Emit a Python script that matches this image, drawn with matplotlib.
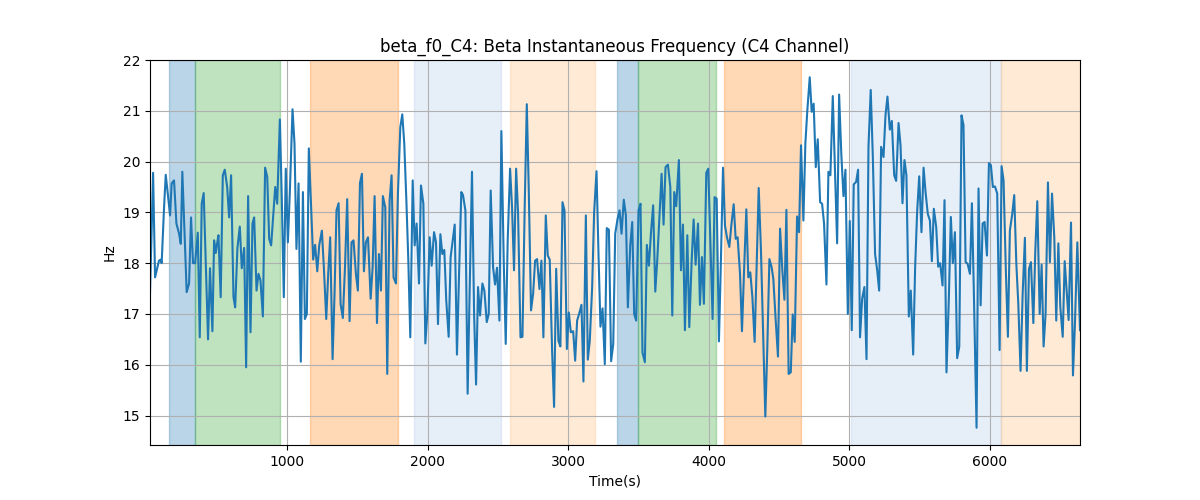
import matplotlib
matplotlib.use("Agg")
import matplotlib.pyplot as plt

time_s = [
    24, 46, 60, 88, 100, 107, 124, 136, 167, 178, 195, 212, 231, 243, 254, 285, 302, 316, 330, 345,
    364, 378, 392, 406, 437, 451, 468, 480, 492, 501, 511, 527, 542, 556, 573, 587, 601, 618, 630, 646,
    663, 677, 694, 708, 722, 739, 753, 765,
    782, 796, 810, 827, 843, 858, 872, 886, 900, 915, 929, 948, 962, 976, 990, 1005, 1019, 1038, 1052, 1066,
    1081, 1097, 1112, 1126, 1140, 1154, 1171, 1185, 1199, 1214, 1228, 1247, 1261, 1278, 1292, 1306, 1323, 1337,
    1351, 1366, 1380, 1396, 1411, 1427, 1444, 1458, 1472, 1489, 1503,
    1518, 1532, 1546, 1560, 1575, 1594, 1608, 1622, 1639, 1653, 1667, 1681, 1698, 1712, 1729, 1743, 1757, 1774,
    1788, 1805, 1819, 1833, 1848, 1862, 1876, 1893, 1907, 1921, 1938, 1952, 1969, 1983, 1997, 2014, 2028, 2045,
    2059, 2073, 2090, 2104, 2118, 2132, 2149, 2163, 2178, 2192, 2208, 2223, 2239,
    2251, 2268, 2284, 2315, 2330, 2344, 2358, 2372, 2389, 2403, 2420, 2434, 2448, 2465, 2479, 2493, 2510, 2524,
    2541, 2555, 2569, 2586, 2600, 2614, 2629, 2643, 2660, 2674, 2690, 2705, 2719, 2735, 2750, 2764, 2778, 2795,
    2809, 2823, 2840, 2854, 2868, 2885, 2899, 2914, 2930, 2944, 2959, 2973,
    2990, 3004, 3018, 3035, 3049, 3063, 3077, 3094, 3108, 3125, 3139, 3153, 3170, 3184, 3201, 3215, 3229, 3244,
    3260, 3274, 3289, 3305, 3320, 3334, 3350, 3365, 3379, 3395, 3410, 3424, 3441, 3455, 3469, 3483, 3500, 3514,
    3528, 3545, 3559, 3574, 3588, 3604, 3619, 3633, 3650, 3664, 3678, 3692, 3709,
    3726, 3740, 3754, 3768, 3787, 3802, 3816, 3830, 3847, 3861, 3878, 3892, 3906, 3923, 3937, 3951, 3965, 3982,
    3996, 4010, 4027, 4041, 4056, 4072, 4086, 4101, 4115, 4129, 4146, 4160, 4177, 4191, 4205, 4222, 4236, 4250,
    4267, 4281, 4295, 4310, 4326, 4340, 4355, 4371, 4386, 4402, 4416, 4431, 4447,
    4459, 4476, 4492, 4507, 4523, 4538, 4552, 4568, 4583, 4597, 4611, 4628, 4642, 4656, 4673, 4687, 4701, 4718,
    4732, 4746, 4761, 4775, 4792, 4806, 4820, 4837, 4851, 4865, 4882, 4896, 4913, 4927, 4943, 4958, 4972, 4989,
    5003, 5017, 5031, 5048, 5062, 5076, 5091, 5107, 5122, 5136, 5152, 5167, 5183,
    5198, 5212, 5226, 5243, 5257, 5271, 5288, 5302, 5319, 5333, 5350, 5364, 5378, 5392, 5406, 5423, 5437, 5454,
    5468, 5482, 5497, 5513, 5528, 5542, 5558, 5573, 5587, 5601, 5618, 5632, 5646, 5663, 5677, 5691, 5708, 5722,
    5736, 5751, 5767, 5782, 5798, 5812, 5827, 5841, 5858, 5872, 5886, 5905, 5919,
    5934, 5948, 5962, 5979, 5993, 6007, 6021, 6036, 6052, 6069, 6083, 6097, 6114, 6128, 6142, 6159, 6173, 6188,
    6202, 6218, 6233, 6249, 6263, 6278, 6292, 6309, 6323, 6337, 6354, 6368, 6382, 6396, 6413, 6427, 6442, 6458,
    6472, 6487, 6501, 6518, 6532, 6546, 6560, 6577, 6591, 6605, 6622, 6641,
]

beta_hz = [
    17.4, 19.78, 17.72, 18.05, 18.07, 18.0, 19.1, 19.74, 18.94, 19.57, 19.63, 18.78, 18.58, 18.38, 19.8, 17.43, 17.6, 18.9, 18.0, 18.0,
    18.6, 16.54, 19.17, 19.38, 16.5, 17.9, 16.66, 18.45, 18.2, 18.38, 18.55, 17.33, 19.73, 19.84, 19.5, 18.9, 19.73, 17.33, 17.13, 18.3,
    18.72, 17.9, 18.3, 15.95, 19.32, 16.64, 18.78, 18.9,
    17.46, 17.79, 17.66, 16.95, 19.88, 19.7, 18.48, 18.35, 18.91, 19.5, 19.17, 20.83, 19.24, 17.33, 19.86, 18.41, 19.4, 21.03, 20.36, 18.28,
    19.57, 16.06, 19.4, 16.9, 17.0, 20.26, 19.04, 18.07, 18.36, 17.84, 18.35, 18.64, 17.92, 16.9, 17.79, 18.51, 16.11, 17.4,
    19.04, 19.18, 17.2, 16.92, 17.89, 19.26, 16.86, 18.41, 18.45, 17.79, 17.46,
    19.58, 19.76, 17.84, 18.41, 18.51, 17.3, 17.92, 19.32, 16.82, 18.18, 17.46, 19.32, 19.1, 15.82, 19.24, 19.73, 17.72, 17.6,
    19.37, 20.68, 20.93, 20.36, 19.24, 18.05, 16.54, 19.63, 18.35, 18.78, 17.6, 19.53, 19.17, 16.42, 17.0, 18.51, 17.95, 18.61,
    18.41, 16.8, 18.57, 18.18, 18.26, 17.26, 16.55, 18.12, 18.45, 18.76, 16.2, 17.79, 19.4,
    19.34, 19.04, 15.43, 19.8, 17.0, 15.61, 17.53, 16.97, 17.6, 17.46, 16.84, 17.0, 19.43, 17.92, 17.58, 17.91, 16.87, 20.6,
    18.02, 16.41, 18.45, 19.86, 19.1, 17.86, 19.86, 18.97, 16.54, 16.55, 19.1, 21.13, 19.43, 17.07, 17.4, 18.05, 18.08, 17.49,
    18.05, 16.54, 18.94, 18.15, 18.07, 16.28, 15.17, 17.89, 16.47, 16.36, 19.2, 19.04,
    16.31, 17.03, 16.64, 16.66, 16.08, 16.87, 17.0, 17.18, 15.67, 18.94, 16.1, 16.47, 17.53, 19.0, 19.81, 18.18, 16.75, 17.11,
    16.01, 18.69, 18.66, 16.07, 16.41, 18.58, 18.86, 19.04, 18.58, 19.25, 18.94, 17.13, 18.35, 18.81, 17.0, 16.87, 19.04, 19.17,
    16.24, 16.05, 18.36, 17.95, 18.58, 19.14, 17.44, 18.05, 18.97, 19.76, 18.76, 19.89, 19.94,
    19.5, 16.97, 19.4, 19.12, 20.03, 17.86, 18.76, 16.68, 18.55, 16.74, 18.05, 18.86, 17.97, 18.78, 17.18, 18.12, 17.2, 19.78,
    19.86, 18.51, 16.9, 19.3, 19.27, 16.46, 18.05, 19.88, 18.74, 18.51, 18.32, 18.74, 19.16, 18.48, 18.51, 17.79, 16.66, 17.79,
    19.06, 17.72, 17.82, 17.33, 16.45, 17.92, 19.48, 18.25, 16.67, 14.98, 16.31, 18.08, 17.92,
    17.69, 16.87, 16.16, 18.68, 17.86, 17.28, 19.05, 15.82, 15.85, 16.99, 16.45, 18.92, 18.61, 20.32, 18.84, 20.36, 21.01, 21.66,
    20.98, 21.14, 19.89, 20.44, 19.2, 19.17, 18.78, 17.58, 19.8, 19.73, 21.29, 19.96, 18.39, 21.32, 20.13, 19.32, 19.84, 17.0,
    18.83, 16.68, 19.55, 19.6, 19.84, 16.54, 17.3, 17.53, 16.11, 20.29, 21.41, 20.09, 18.18,
    17.86, 17.46, 20.29, 20.09, 20.91, 21.28, 20.63, 20.8, 19.73, 19.62, 20.76, 20.32, 19.18, 20.03, 19.73, 16.95, 17.46, 16.2,
    17.92, 19.0, 19.71, 18.61, 19.88, 19.4, 18.97, 18.84, 18.04, 19.07, 18.71, 17.93, 18.0, 17.56, 19.24, 15.85, 17.33, 18.91,
    18.0, 18.61, 16.13, 16.36, 20.91, 20.72, 18.02, 17.99, 17.79, 19.18, 17.4, 14.76, 19.47,
    17.17, 18.78, 18.81, 18.15, 19.97, 19.93, 19.5, 19.51, 19.37, 16.29, 19.91, 19.63, 17.79, 16.55, 18.64, 18.97, 19.34, 17.99,
    17.2, 15.88, 17.4, 18.5, 15.88, 17.89, 18.02, 16.82, 18.25, 19.22, 17.0, 17.97, 16.36, 17.0, 19.59, 18.02, 19.37, 18.51,
    16.87, 18.39, 17.13, 16.55, 18.04, 17.46, 16.88, 18.8, 15.79, 16.8, 18.41, 16.68,
]

span_starts = [160, 345, 1164, 1904, 2582, 3349, 3494, 4105, 5012, 6078]
span_ends = [345, 946, 1786, 2518, 3189, 3494, 4051, 4656, 6078, 6641]
span_colors = ["#1f77b4", "#2ca02c", "#ff7f0e", "#aec7e8", "#ffbb78",
               "#1f77b4", "#2ca02c", "#ff7f0e", "#aec7e8", "#ffbb78"]

fig, ax = plt.subplots(figsize=(12, 5), dpi=100)
for s, e, c in zip(span_starts, span_ends, span_colors):
    ax.axvspan(s, e, color=c, alpha=0.3)
ax.plot(time_s, beta_hz, color="#1f77b4", linewidth=1.5)
ax.set_xlim(time_s[0], time_s[-1])
ax.set_ylim(14.42, 22.0)
ax.grid(True)
ax.set_title("beta_f0_C4: Beta Instantaneous Frequency (C4 Channel)")
ax.set_xlabel("Time(s)")
ax.set_ylabel("Hz")
fig.savefig("out.png", dpi=100)
